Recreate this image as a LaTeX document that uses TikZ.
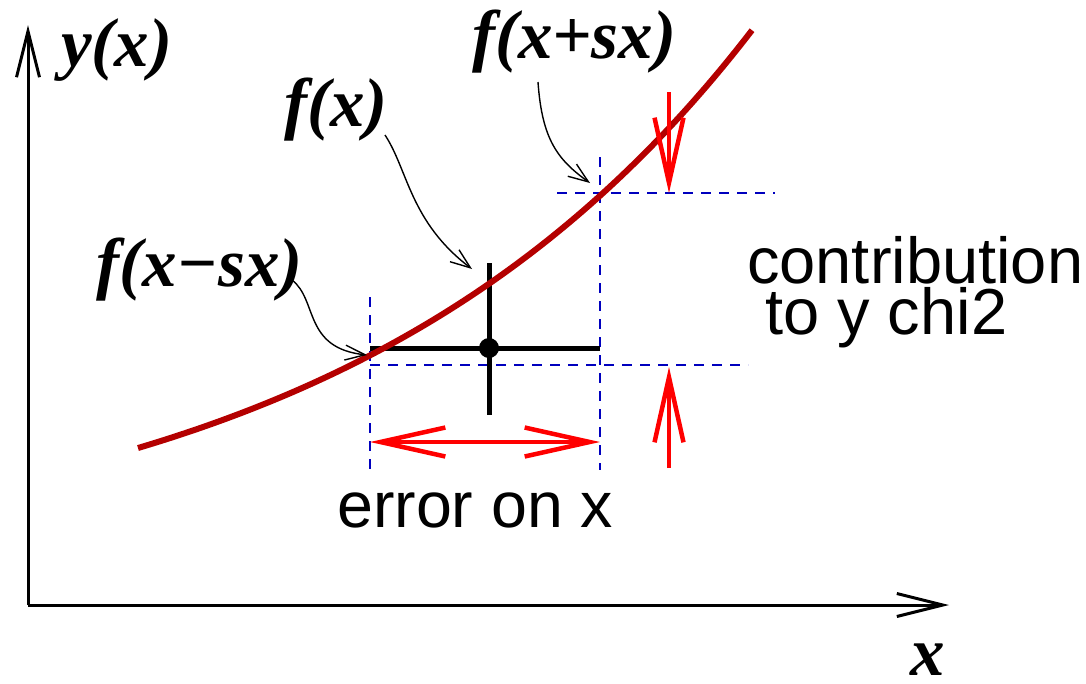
\documentclass[tikz,border=0pt]{standalone}
\usepackage{fontspec}
\setmainfont{Liberation Serif}
\setsansfont{Liberation Sans}
\usetikzlibrary{arrows.meta}
\definecolor{curvered}{RGB}{180,0,0}
\definecolor{dashblue}{RGB}{0,0,190}
\tikzset{
  axisline/.style={line width=3pt, -{Straight Barb[length=46pt,width=23pt,line width=3pt]}},
  mathlbl/.style={inner sep=0pt, anchor=base west, font=\fontsize{69}{72}\selectfont\bfseries\itshape},
  sanslbl/.style={inner sep=0pt, anchor=base west, font=\fontsize{65}{70}\selectfont\sffamily},
  pointer/.style={line width=1.4pt, -{Straight Barb[length=20pt,width=15pt,line width=1.4pt]}},
  guide/.style={dashblue, line width=1.5pt, dash pattern=on 10pt off 8pt},
  errbar/.style={line width=5pt},
  redarrow/.style={red, line width=4.5pt, -{Straight Barb[length=65pt,width=29pt,line width=4.5pt]}},
  redboth/.style={red, line width=4.5pt, {Straight Barb[length=65pt,width=29pt,line width=4.5pt]}-{Straight Barb[length=65pt,width=29pt,line width=4.5pt]}},
  fcurve/.style={curvered, line width=6pt},
}
\begin{document}
\begin{tikzpicture}[x=1pt,y=-1pt]
\useasboundingbox (0,0) rectangle (1086,683);
% axes
\coordinate (origin) at (28,605);
\coordinate (ytip) at (28,25);
\coordinate (xtip) at (949,605);
\draw[axisline] (origin) -- (ytip);
\draw[axisline] (origin) -- (xtip);
\node[mathlbl] (ylbl) at (61,66) {y(x)};
\node[mathlbl, text depth=0pt] (xlbl) at (910,675) {x};
% dashed guides
\coordinate (gl1) at (370,297); \coordinate (gl2) at (370,470);
\coordinate (gr1) at (600,157); \coordinate (gr2) at (600,470);
\coordinate (gt1) at (557,193); \coordinate (gt2) at (775,193);
\coordinate (gb1) at (370,365); \coordinate (gb2) at (748,365);
\draw[guide] (gl1) -- (gl2);
\draw[guide] (gr1) -- (gr2);
\draw[guide] (gt1) -- (gt2);
\draw[guide] (gb1) -- (gb2);
% error bars
\coordinate (pt) at (489,348);
\coordinate (eL) at (370,348); \coordinate (eR) at (600,348);
\coordinate (eT) at (489,263); \coordinate (eB) at (489,415);
\draw[errbar] (eL) -- (eR);
\draw[errbar] (eT) -- (eB);
\fill (pt) circle[radius=10pt];
% curve
\draw[fcurve] plot[domain=138:752, samples=80, smooth] (\x, {572.6-124.6*exp(0.0024*(\x-138))});
% red arrows
\coordinate (hA) at (370,442); \coordinate (hB) at (600,442);
\draw[redboth] (hA) -- (hB);
\coordinate (dS) at (669,92); \coordinate (dT) at (669,193);
\draw[redarrow] (dS) -- (dT);
\coordinate (uS) at (669,468); \coordinate (uT) at (669,367);
\draw[redarrow] (uS) -- (uT);
% labels
\node[mathlbl] (fp) at (472,58) {f(x+sx)};
\node[mathlbl] (f0) at (284,126) {f(x)};
\node[mathlbl] (fm) at (96,286) {f(x−sx)};
\node[sanslbl, text depth=0pt] (c1) at (747,283) {contribution};
\node[sanslbl, text height=0.66em] (c2) at (765,334) {to y chi2};
\node[sanslbl, font=\fontsize{64.5}{70}\selectfont\sffamily] (err) at (337,527) {error on x};
% pointers
\coordinate (fpS) at (538,82); \coordinate (fpT) at (590,183);
\coordinate (f0S) at (385,135); \coordinate (f0T) at (472,269);
\coordinate (fmS) at (292,280); \coordinate (fmT) at (367,355);
\draw[pointer] (fpS) .. controls (542,140) and (558,160) .. (fpT);
\draw[pointer] (f0S) .. controls (408,170) and (410,222) .. (f0T);
\draw[pointer] (fmS) .. controls (318,300) and (303,348) .. (fmT);
\end{tikzpicture}
\end{document}
